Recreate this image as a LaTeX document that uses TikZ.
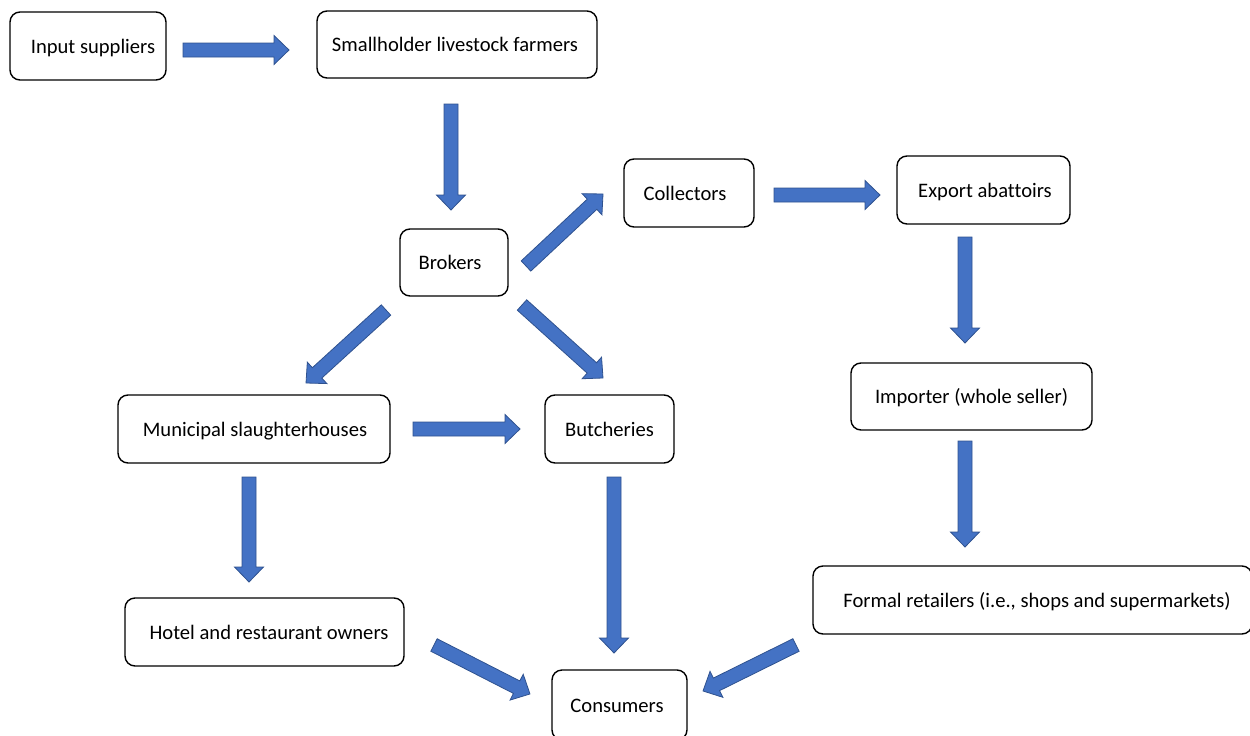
\documentclass[tikz,border=0pt]{standalone}
\usepackage{fontspec}
\setmainfont[Ligatures=NoCommon]{Carlito}
\usetikzlibrary{calc}
\definecolor{arrfill}{HTML}{4472C4}
\definecolor{arrline}{HTML}{2F528F}
\tikzset{
  box/.style={draw=black, line width=1.4pt, rounded corners=10pt, inner sep=0pt,
              text height=14pt, text depth=0pt,
              font=\fontsize{20.6}{24}\selectfont},
  blk/.style={fill=arrfill, draw=arrline, line width=0.8pt, line join=miter}
}
\newcommand\blockarrow[2]{%
  \path let \p1=($(#2)-(#1)$), \n1={atan2(\y1,\x1)}, \n2={veclen(\x1,\y1)} in
    \pgfextra{\xdef\bkang{\n1}\xdef\bklen{\n2}};
  \draw[blk, shift={(#1)}, rotate=\bkang]
    (0pt,-7pt) -- (\bklen-15pt,-7pt) -- (\bklen-15pt,-14.5pt) -- (\bklen,0pt)
    -- (\bklen-15pt,14.5pt) -- (\bklen-15pt,7pt) -- (0pt,7pt) -- cycle;
}
\begin{document}
\begin{tikzpicture}[x=1pt,y=-1pt]
\useasboundingbox (0,0) rectangle (1250,736);
% boxes
\node[box, minimum width=156pt, minimum height=68pt] (inp) at (88,46) {\hspace*{10pt}Input suppliers};
\node[box, minimum width=280pt, minimum height=67pt] (small) at (457,44.5) {Smallholder livestock farmers\hspace*{4pt}};
\node[box, minimum width=108pt, minimum height=67pt] (brok) at (454,262.5) {Brokers\hspace*{8pt}};
\node[box, minimum width=130pt, minimum height=68pt] (coll) at (689,193) {Collectors\hspace*{8pt}};
\node[box, minimum width=173pt, minimum height=68pt] (exp) at (983.5,190) {\hspace*{3pt}Export abattoirs};
\node[box, minimum width=241pt, minimum height=67pt] (imp) at (971.5,396.5) {Importer (whole seller)};
\node[box, minimum width=272pt, minimum height=68pt] (muni) at (254,429) {\hspace*{2pt}Municipal slaughterhouses};
\node[box, minimum width=129pt, minimum height=68pt] (butch) at (609.5,429) {Butcheries};
\node[box, minimum width=279pt, minimum height=68pt] (hotel) at (264.5,632) {\hspace*{9pt}Hotel and restaurant owners};
\node[box, minimum width=135pt, minimum height=70pt] (cons) at (619.5,705) {Consumers\hspace*{5pt}};
\node[box, minimum width=439pt, minimum height=68pt] (formal) at (1032.5,600) {\hspace*{9pt}Formal retailers (i.e., shops and supermarkets)};
% arrow end points
\coordinate (a1s) at (183,50);  \coordinate (a1e) at (289,50);
\coordinate (a2s) at (451,104); \coordinate (a2e) at (451,210);
\coordinate (a3s) at (526,266); \coordinate (a3e) at (603,194);
\coordinate (a4s) at (774,195); \coordinate (a4e) at (880,195);
\coordinate (a5s) at (965,237); \coordinate (a5e) at (965,343);
\coordinate (a6s) at (965,441); \coordinate (a6e) at (965,547);
\coordinate (a7s) at (386,310); \coordinate (a7e) at (306,383);
\coordinate (a8s) at (522,305); \coordinate (a8e) at (603,378);
\coordinate (a9s) at (413,429); \coordinate (a9e) at (520,429);
\coordinate (a10s) at (249,477); \coordinate (a10e) at (249,582);
\coordinate (a11s) at (614,477); \coordinate (a11e) at (614,653);
\coordinate (a12s) at (434,645); \coordinate (a12e) at (530,694);
\coordinate (a13s) at (796,645); \coordinate (a13e) at (703,691);
\blockarrow{a1s}{a1e}
\blockarrow{a2s}{a2e}
\blockarrow{a3s}{a3e}
\blockarrow{a4s}{a4e}
\blockarrow{a5s}{a5e}
\blockarrow{a6s}{a6e}
\blockarrow{a7s}{a7e}
\blockarrow{a8s}{a8e}
\blockarrow{a9s}{a9e}
\blockarrow{a10s}{a10e}
\blockarrow{a11s}{a11e}
\blockarrow{a12s}{a12e}
\blockarrow{a13s}{a13e}
\end{tikzpicture}
\end{document}
